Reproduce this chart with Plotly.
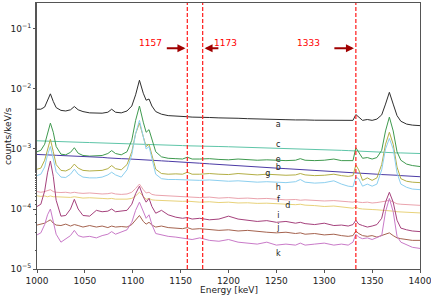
import plotly.graph_objects as go

energy = [1000,1004,1008,1011,1014,1017,1020,1025,1030,1035,1039,1043,1048,1055,1062,1068,1074,1078,1082,1088,
          1094,1099,1103,1107,1111,1114,1117,1120,1124,1130,1137,1145,1152,1157,1162,1170,1180,1190,1200,1210,
          1220,1230,1240,1250,1260,1270,1275,1280,1290,1300,1310,1318,1325,1330,1333,1336,1340,1345,1350,1355,
          1360,1364,1368,1372,1376,1380,1386,1392,1400]

a = [4.6e-3,4.6e-3,5.0e-3,6.3e-3,8.3e-3,6.2e-3,4.9e-3,4.4e-3,4.3e-3,4.5e-3,5.1e-3,4.5e-3,4.2e-3,4.0e-3,3.95e-3,3.95e-3,4.1e-3,4.6e-3,4.1e-3,4.0e-3,
     4.3e-3,5.2e-3,8.0e-3,1.4e-2,8.5e-3,6.5e-3,6.8e-3,5.2e-3,4.2e-3,3.8e-3,3.6e-3,3.5e-3,3.45e-3,3.45e-3,3.4e-3,3.42e-3,3.35e-3,3.3e-3,3.3e-3,3.25e-3,
     3.2e-3,3.15e-3,3.12e-3,3.1e-3,3.08e-3,3.05e-3,3.08e-3,3.05e-3,3.02e-3,3.0e-3,2.98e-3,2.97e-3,2.95e-3,3.0e-3,3.75e-3,3.4e-3,3.0e-3,3.1e-3,3.0e-3,3.15e-3,
     3.7e-3,5.6e-3,8.8e-3,5.6e-3,3.6e-3,2.9e-3,2.6e-3,2.5e-3,2.45e-3]

c = [1.37e-3,1.36e-3,1.36e-3,1.35e-3,1.36e-3,1.35e-3,1.34e-3,1.33e-3,1.32e-3,1.31e-3,1.31e-3,1.3e-3,1.29e-3,1.28e-3,1.27e-3,1.26e-3,1.25e-3,1.25e-3,1.24e-3,1.23e-3,
     1.22e-3,1.22e-3,1.22e-3,1.23e-3,1.21e-3,1.2e-3,1.2e-3,1.19e-3,1.18e-3,1.17e-3,1.16e-3,1.15e-3,1.14e-3,1.13e-3,1.13e-3,1.12e-3,1.11e-3,1.1e-3,1.09e-3,1.08e-3,
     1.07e-3,1.06e-3,1.05e-3,1.04e-3,1.03e-3,1.02e-3,1.01e-3,1.0e-3,9.9e-4,9.8e-4,9.6e-4,9.5e-4,9.4e-4,9.3e-4,9.5e-4,9.2e-4,9.1e-4,9.0e-4,8.9e-4,8.9e-4,
     8.8e-4,8.8e-4,8.8e-4,8.7e-4,8.6e-4,8.6e-4,8.5e-4,8.45e-4,8.4e-4]

e = [9.0e-4,9.5e-4,1.2e-3,1.9e-3,2.7e-3,1.9e-3,1.1e-3,8.2e-4,8.0e-4,8.8e-4,1.05e-3,8.5e-4,7.8e-4,7.6e-4,7.6e-4,7.8e-4,8.4e-4,9.4e-4,8.4e-4,8.0e-4,
     9.0e-4,1.4e-3,3.0e-3,5.2e-3,2.8e-3,1.9e-3,2.1e-3,1.5e-3,9.0e-4,7.4e-4,7.0e-4,6.9e-4,6.8e-4,7.3e-4,6.8e-4,6.8e-4,6.9e-4,6.7e-4,6.6e-4,6.8e-4,
     6.6e-4,6.5e-4,6.6e-4,6.5e-4,6.4e-4,6.5e-4,6.9e-4,6.5e-4,6.4e-4,6.5e-4,6.8e-4,6.4e-4,6.3e-4,6.4e-4,1.05e-3,9.0e-4,7.0e-4,7.2e-4,6.8e-4,7.2e-4,
     9.5e-4,2.0e-3,3.4e-3,2.0e-3,9.0e-4,6.5e-4,5.6e-4,5.3e-4,5.1e-4]

b = [8.1e-4,8.0e-4,8.0e-4,7.9e-4,7.95e-4,7.9e-4,7.85e-4,7.8e-4,7.7e-4,7.7e-4,7.6e-4,7.6e-4,7.5e-4,7.4e-4,7.3e-4,7.25e-4,7.1e-4,7.1e-4,7.0e-4,6.9e-4,
     6.85e-4,6.8e-4,6.75e-4,6.7e-4,6.6e-4,6.6e-4,6.55e-4,6.5e-4,6.45e-4,6.35e-4,6.25e-4,6.1e-4,6.0e-4,5.95e-4,5.9e-4,5.8e-4,5.65e-4,5.5e-4,5.4e-4,5.25e-4,
     5.15e-4,5.0e-4,4.9e-4,4.8e-4,4.7e-4,4.6e-4,4.55e-4,4.5e-4,4.4e-4,4.3e-4,4.2e-4,4.15e-4,4.1e-4,4.05e-4,4.1e-4,4.0e-4,3.95e-4,3.9e-4,3.85e-4,3.8e-4,
     3.75e-4,3.75e-4,3.7e-4,3.65e-4,3.65e-4,3.6e-4,3.55e-4,3.5e-4,3.45e-4]

g = [4.6e-4,4.8e-4,6.5e-4,1.0e-3,1.45e-3,9.0e-4,5.5e-4,4.4e-4,4.3e-4,4.7e-4,5.6e-4,4.8e-4,4.4e-4,4.3e-4,4.3e-4,4.4e-4,4.7e-4,5.3e-4,4.7e-4,4.5e-4,
     5.5e-4,9.0e-4,1.8e-3,2.7e-3,1.6e-3,1.1e-3,1.2e-3,8.0e-4,4.6e-4,3.9e-4,3.8e-4,3.85e-4,3.8e-4,4.1e-4,3.8e-4,3.8e-4,3.9e-4,3.8e-4,3.75e-4,3.9e-4,
     3.8e-4,3.7e-4,3.8e-4,3.7e-4,3.65e-4,3.7e-4,3.9e-4,3.7e-4,3.6e-4,3.65e-4,3.8e-4,3.6e-4,3.5e-4,3.6e-4,5.4e-4,4.5e-4,3.0e-4,3.3e-4,3.0e-4,3.3e-4,
     5.5e-4,1.2e-3,1.9e-3,1.2e-3,5.0e-4,3.2e-4,2.9e-4,2.8e-4,2.75e-4]

h = [3.6e-4,3.8e-4,5.0e-4,8.0e-4,1.1e-3,7.0e-4,4.2e-4,3.4e-4,3.35e-4,3.8e-4,4.6e-4,3.8e-4,3.4e-4,3.3e-4,3.3e-4,3.4e-4,3.7e-4,4.1e-4,3.7e-4,3.4e-4,
     4.5e-4,8.0e-4,1.8e-3,3.0e-3,1.5e-3,1.0e-3,1.1e-3,7.0e-4,3.8e-4,3.2e-4,3.1e-4,3.1e-4,3.05e-4,3.1e-4,3.0e-4,3.0e-4,3.05e-4,2.95e-4,2.9e-4,2.95e-4,
     2.85e-4,2.8e-4,2.85e-4,2.8e-4,2.75e-4,2.85e-4,3.1e-4,2.8e-4,2.7e-4,2.75e-4,2.95e-4,2.6e-4,2.4e-4,2.35e-4,3.4e-4,3.2e-4,2.4e-4,2.6e-4,2.4e-4,2.6e-4,
     4.5e-4,1.0e-3,1.5e-3,1.0e-3,4.0e-4,2.6e-4,2.3e-4,2.15e-4,2.1e-4]

f = [1.95e-4,1.9e-4,1.95e-4,2.0e-4,2.1e-4,1.95e-4,1.9e-4,1.88e-4,1.9e-4,1.85e-4,1.9e-4,1.85e-4,1.82e-4,1.85e-4,1.8e-4,1.78e-4,1.8e-4,1.85e-4,1.78e-4,1.75e-4,
     1.78e-4,1.9e-4,2.2e-4,2.6e-4,2.1e-4,1.85e-4,1.9e-4,1.75e-4,1.7e-4,1.68e-4,1.65e-4,1.62e-4,1.6e-4,1.62e-4,1.58e-4,1.55e-4,1.58e-4,1.52e-4,1.55e-4,1.5e-4,
     1.52e-4,1.48e-4,1.5e-4,1.45e-4,1.42e-4,1.44e-4,1.4e-4,1.42e-4,1.38e-4,1.36e-4,1.38e-4,1.33e-4,1.32e-4,1.3e-4,1.35e-4,1.3e-4,1.28e-4,1.3e-4,1.26e-4,1.28e-4,
     1.3e-4,1.35e-4,1.4e-4,1.3e-4,1.22e-4,1.2e-4,1.18e-4,1.17e-4,1.15e-4]

d = [1.66e-4,1.62e-4,1.65e-4,1.6e-4,1.65e-4,1.6e-4,1.6e-4,1.58e-4,1.6e-4,1.56e-4,1.6e-4,1.55e-4,1.52e-4,1.54e-4,1.5e-4,1.5e-4,1.48e-4,1.5e-4,1.46e-4,1.45e-4,
     1.46e-4,1.5e-4,1.65e-4,1.9e-4,1.6e-4,1.45e-4,1.5e-4,1.42e-4,1.4e-4,1.38e-4,1.37e-4,1.36e-4,1.34e-4,1.35e-4,1.32e-4,1.3e-4,1.32e-4,1.28e-4,1.3e-4,1.26e-4,
     1.27e-4,1.24e-4,1.25e-4,1.22e-4,1.2e-4,1.18e-4,1.2e-4,1.16e-4,1.14e-4,1.1e-4,1.12e-4,1.08e-4,1.05e-4,1.03e-4,1.08e-4,1.02e-4,1.0e-4,1.0e-4,9.8e-5,9.7e-5,
     9.6e-5,9.6e-5,9.5e-5,9.2e-5,9.0e-5,8.9e-5,8.8e-5,8.7e-5,8.6e-5]

i = [1.1e-4,1.2e-4,2.0e-4,4.0e-4,6.3e-4,3.5e-4,1.4e-4,7.6e-5,7.8e-5,1.0e-4,1.45e-4,1.0e-4,7.8e-5,7.6e-5,9.5e-5,9.0e-5,9.2e-5,1.0e-4,9.0e-5,9.2e-5,
     9.5e-5,1.2e-4,1.8e-4,2.4e-4,1.6e-4,1.3e-4,1.5e-4,1.1e-4,8.5e-5,9.5e-5,8.0e-5,7.3e-5,7.0e-5,7.2e-5,6.8e-5,7.0e-5,6.6e-5,6.8e-5,7.6e-5,6.8e-5,
     6.5e-5,6.2e-5,6.4e-5,6.0e-5,6.2e-5,5.8e-5,6.0e-5,5.7e-5,5.5e-5,5.8e-5,5.3e-5,5.4e-5,5.2e-5,5.5e-5,6.5e-5,5.6e-5,5.3e-5,5.0e-5,5.2e-5,5.5e-5,
     7.0e-5,1.3e-4,1.9e-4,1.3e-4,6.5e-5,4.8e-5,4.5e-5,4.3e-5,4.2e-5]

j = [5.4e-5,5.6e-5,5.8e-5,6.2e-5,6.6e-5,5.8e-5,5.4e-5,5.3e-5,5.6e-5,5.2e-5,5.5e-5,5.3e-5,5.0e-5,5.3e-5,5.0e-5,5.2e-5,4.9e-5,5.2e-5,5.0e-5,5.1e-5,
     5.0e-5,5.5e-5,6.5e-5,7.8e-5,6.2e-5,5.6e-5,6.0e-5,5.4e-5,5.0e-5,5.2e-5,4.9e-5,4.8e-5,4.7e-5,4.9e-5,4.6e-5,4.7e-5,4.5e-5,4.4e-5,4.5e-5,4.3e-5,
     4.4e-5,4.2e-5,4.1e-5,4.0e-5,4.1e-5,3.9e-5,4.0e-5,3.8e-5,3.9e-5,3.7e-5,3.8e-5,3.6e-5,3.5e-5,3.6e-5,4.3e-5,3.9e-5,3.6e-5,3.5e-5,3.6e-5,3.4e-5,
     3.6e-5,3.8e-5,4.0e-5,3.6e-5,3.3e-5,3.2e-5,3.1e-5,3.0e-5,3.0e-5]

k = [3.7e-5,4.0e-5,5.5e-5,8.0e-5,1.0e-4,6.5e-5,3.8e-5,2.8e-5,3.2e-5,3.6e-5,4.4e-5,3.6e-5,3.4e-5,3.5e-5,3.3e-5,3.6e-5,3.8e-5,4.2e-5,3.8e-5,4.2e-5,
     4.5e-5,6.0e-5,9.5e-5,1.3e-4,9.0e-5,7.0e-5,8.0e-5,5.5e-5,3.9e-5,3.7e-5,3.5e-5,3.4e-5,3.3e-5,3.2e-5,3.1e-5,3.3e-5,3.0e-5,2.9e-5,3.1e-5,2.8e-5,
     2.7e-5,2.6e-5,2.8e-5,2.5e-5,2.6e-5,2.5e-5,2.7e-5,2.5e-5,2.6e-5,2.7e-5,2.5e-5,2.6e-5,2.5e-5,2.8e-5,3.8e-5,3.4e-5,3.2e-5,3.3e-5,3.1e-5,3.3e-5,
     3.6e-5,9.0e-5,1.5e-4,9.0e-5,3.5e-5,2.8e-5,2.5e-5,2.3e-5,2.2e-5]

series_names = ["a", "c", "e", "b", "g", "h", "f", "d", "i", "j", "k"]
series_values = [a, c, e, b, g, h, f, d, i, j, k]
series_colors = ["#2e2e2e", "#5ec5a8", "#3f9a4f", "#4b3aa5", "#b3ae45", "#8ccfef",
                 "#eaa3ad", "#e8d27a", "#a5417c", "#a5634f", "#c97ac8"]

# label positions (energy, value) for the series letters
label_x = [1252, 1252, 1252, 1252, 1241, 1252, 1252, 1262, 1252, 1252, 1252]
label_y = [2.5e-3, 1.17e-3, 6.6e-4, 4.8e-4, 3.8e-4, 2.24e-4, 1.41e-4, 1.12e-4, 7.6e-5, 4.8e-5, 1.78e-5]

line_energies = [1157, 1173, 1333]
line_labels = ["1157", "1173", "1333"]

fig = go.Figure()
for name, vals, col in zip(series_names, series_values, series_colors):
    fig.add_trace(go.Scatter(x=energy, y=vals, mode="lines", name=name,
                             line=dict(color=col, width=1), showlegend=False))

fig.add_trace(go.Scatter(x=label_x, y=label_y, mode="text", text=series_names,
                         textfont=dict(size=8, color="#222", family="DejaVu Sans"),
                         showlegend=False, hoverinfo="skip"))

for xe in line_energies:
    fig.add_shape(type="line", x0=xe, x1=xe, y0=0, y1=1, xref="x", yref="paper",
                  line=dict(color="#ff2a2a", width=1.3, dash="4px,2px"))

ann = []
arrow_y = -1.32
text_y = -1.24
red_font = dict(color="red", size=9, family="DejaVu Sans")
ann.append(dict(x=1119, y=text_y, text=line_labels[0], showarrow=False, xref="x", yref="y", font=red_font))
ann.append(dict(x=1155, y=arrow_y, ax=1134, ay=arrow_y, axref="x", ayref="y", xref="x", yref="y",
                text="", showarrow=True, arrowhead=2, arrowsize=0.8, arrowwidth=2, arrowcolor="#a00000"))
ann.append(dict(x=1197, y=text_y, text=line_labels[1], showarrow=False, xref="x", yref="y", font=red_font))
ann.append(dict(x=1175, y=arrow_y, ax=1191, ay=arrow_y, axref="x", ayref="y", xref="x", yref="y",
                text="", showarrow=True, arrowhead=2, arrowsize=0.8, arrowwidth=2, arrowcolor="#a00000"))
ann.append(dict(x=1284, y=text_y, text=line_labels[2], showarrow=False, xref="x", yref="y", font=red_font))
ann.append(dict(x=1331, y=arrow_y, ax=1309, ay=arrow_y, axref="x", ayref="y", xref="x", yref="y",
                text="", showarrow=True, arrowhead=2, arrowsize=0.8, arrowwidth=2, arrowcolor="#a00000"))
# axis titles
ann.append(dict(x=0.5, y=-0.079, xref="paper", yref="paper", text="Energy [keV]", showarrow=False,
                xanchor="center", yanchor="middle", font=dict(size=9, color="#222")))
ann.append(dict(x=-0.076, y=0.5, xref="paper", yref="paper", text="counts/keV/s", showarrow=False,
                textangle=-90, xanchor="center", yanchor="middle", font=dict(size=9, color="#222")))

ytick_vals = [1e-5, 1e-4, 1e-3, 1e-2, 1e-1]
ytick_text = ["10<sup>−5</sup>", "10<sup>−4</sup>", "10<sup>−3</sup>", "10<sup>−2</sup>", "10<sup>−1</sup>"]
xtick_vals = [1000, 1050, 1100, 1150, 1200, 1250, 1300, 1350, 1400]

axis_col = "#555555"
fig.update_layout(
    width=431, height=295,
    margin=dict(l=37, r=11, t=3, b=26, autoexpand=False),
    paper_bgcolor="white", plot_bgcolor="white",
    font=dict(family="DejaVu Sans", size=9, color="#222"),
    annotations=ann,
    xaxis=dict(range=[1000, 1400], tickvals=xtick_vals, ticks="outside", ticklen=3, tickcolor=axis_col,
               showline=True, linecolor=axis_col, linewidth=1, mirror=True, showgrid=False, zeroline=False,
               automargin=False, ticklabeloverflow="allow", tickfont=dict(size=9)),
    yaxis=dict(type="log", range=[-5, -0.567], tickvals=ytick_vals, ticktext=ytick_text,
               ticks="outside", ticklen=3, tickcolor=axis_col,
               minor=dict(ticks="outside", ticklen=1.5, tickcolor=axis_col, showgrid=False),
               showline=True, linecolor=axis_col, linewidth=1, mirror=True, showgrid=False, zeroline=False,
               automargin=False, ticklabeloverflow="allow", tickfont=dict(size=9)),
)

fig.write_html("out.html", config={"displayModeBar": False},
               post_script="document.body.style.margin='0';document.body.style.padding='0';")
